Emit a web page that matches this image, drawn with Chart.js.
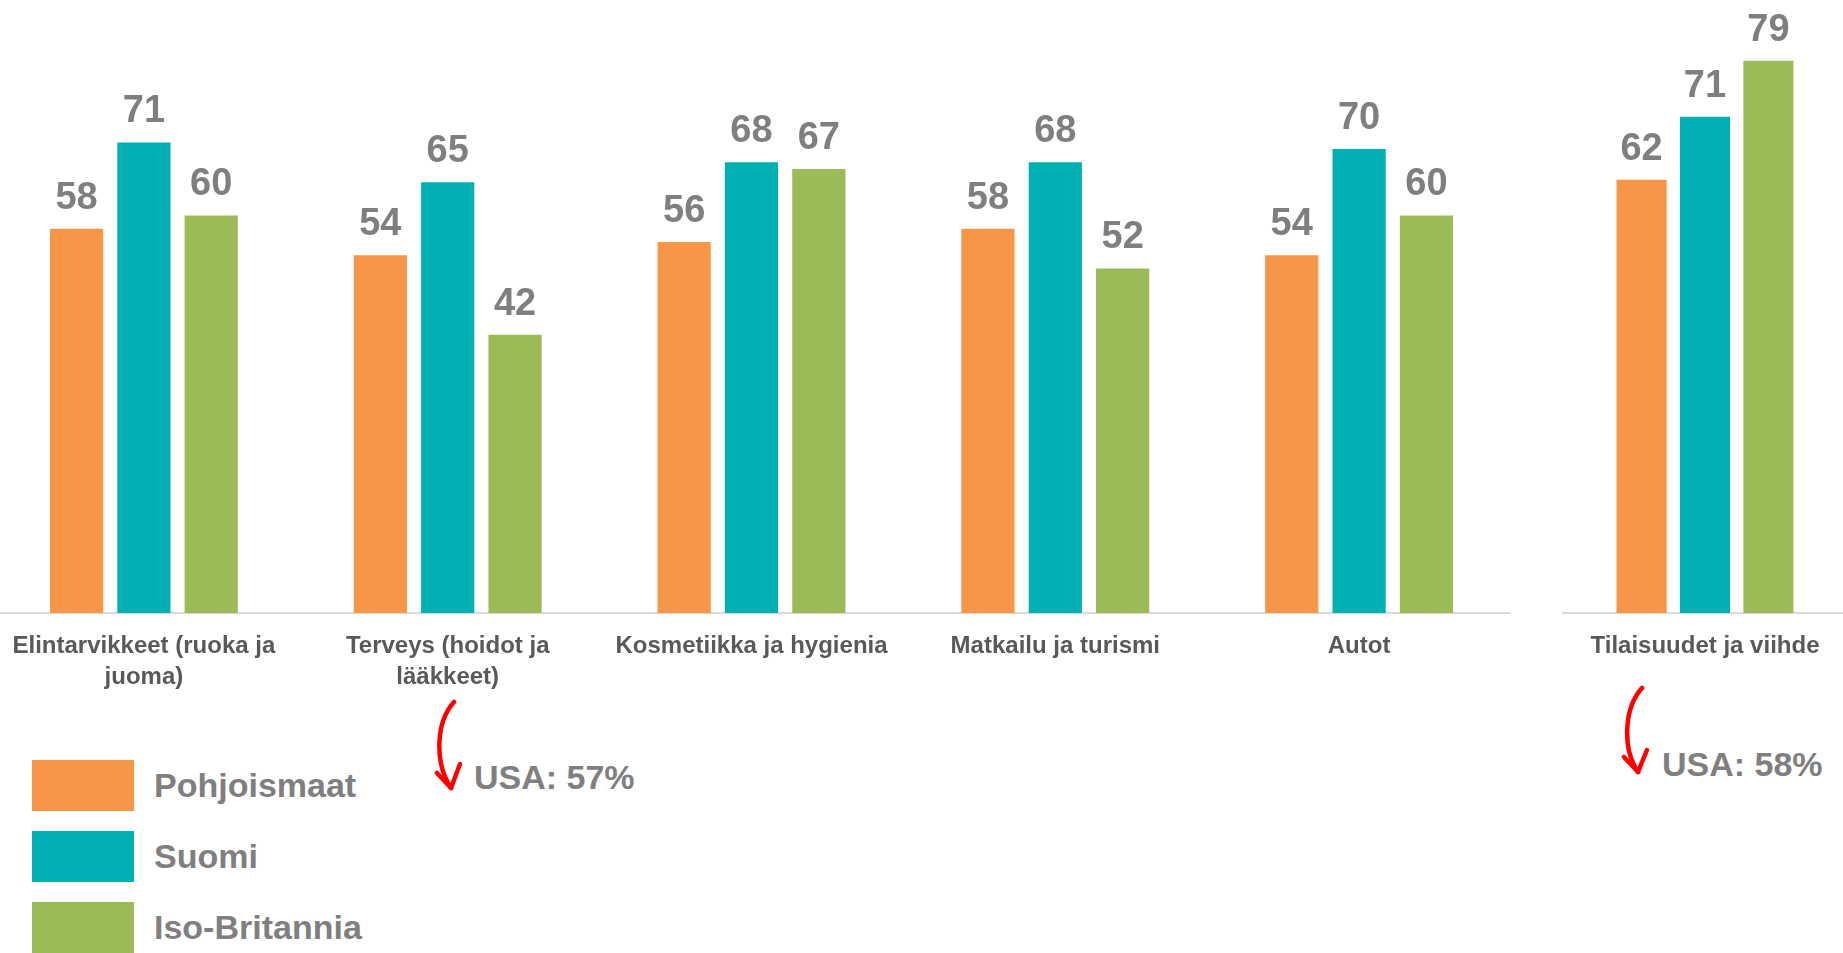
<!DOCTYPE html>
<html>
<head>
<meta charset="utf-8">
<script src="https://cdn.jsdelivr.net/npm/chart.js@4"></script>
<style>
  html, body { margin: 0; padding: 0; background: #fff; overflow: hidden; }
  body { width: 1843px; height: 953px; position: relative; font-family: 'Liberation Sans', Arial, sans-serif; }
  #box1 { position: absolute; left: -8px; top: 0; width: 1519px; height: 713px; }
  #box2 { position: absolute; left: 1562px; top: 0; width: 286px; height: 713px; }
  .legend { position: absolute; left: 32px; top: 760px; }
  .legend div { display: flex; align-items: center; height: 51px; margin-bottom: 20px; }
  .legend span.sw { width: 102px; height: 51px; display: inline-block; }
  .legend span.tx { margin-left: 20px; font-size: 34px; font-weight: bold; color: #7f7f7f; }
  .usa { position: absolute; font-size: 34px; font-weight: bold; color: #7f7f7f; white-space: nowrap; }
  svg { position: absolute; left: 0; top: 0; }
</style>
</head>
<body>
<div id="box1"><canvas id="chart1"></canvas></div>
<div id="box2"><canvas id="chart2"></canvas></div>
<div class="legend" id="legend"></div>
<div class="usa" style="left:474px; top:758px;">USA: 57%</div>
<div class="usa" style="left:1662px; top:745px;">USA: 58%</div>
<svg width="1843" height="953">
  <g fill="none" stroke="#ff0000" stroke-width="4.5" stroke-linecap="round" stroke-linejoin="round">
    <path d="M 454 702 C 436 722, 434 762, 451 788" />
    <path d="M 437 773 L 451 788 L 460 764" />
    <path d="M 1642 688 C 1624 708, 1622 748, 1638 772" />
    <path d="M 1624 757 L 1638 772 L 1647 750" />
  </g>
</svg>
<script>
const seriesNames = ['Pohjoismaat', 'Suomi', 'Iso-Britannia'];
const seriesColors = ['#f79646', '#00b0b3', '#9bbb59'];

const categories1 = [
    ['Elintarvikkeet (ruoka ja', 'juoma)'],
    ['Terveys (hoidot ja', 'lääkkeet)'],
    'Kosmetiikka ja hygienia',
    'Matkailu ja turismi',
    'Autot'
];
const pohjoismaat1 = [58, 54, 56, 58, 54];
const suomi1 = [71, 65, 68, 68, 70];
const isoBritannia1 = [60, 42, 67, 52, 60];

const categories2 = ['Tilaisuudet ja viihde'];
const pohjoismaat2 = [62];
const suomi2 = [71];
const isoBritannia2 = [79];

Chart.defaults.font.family = "'Liberation Sans', Arial, sans-serif";
Chart.defaults.animation = false;

// draws the value above each bar
const valueLabels = {
    id: 'valueLabels',
    afterDatasetsDraw(chart) {
        const ctx = chart.ctx;
        ctx.save();
        ctx.font = "bold 38px 'Liberation Sans', Arial, sans-serif";
        ctx.fillStyle = '#7f7f7f';
        ctx.textAlign = 'center';
        ctx.textBaseline = 'alphabetic';
        chart.data.datasets.forEach((ds, i) => {
            chart.getDatasetMeta(i).data.forEach((bar, j) => {
                ctx.fillText(ds.data[j], bar.x, bar.y - 20);
            });
        });
        ctx.restore();
    }
};

function makeChart(id, labels, values, yMax) {
    return new Chart(document.getElementById(id), {
        type: 'bar',
        data: {
            labels: labels,
            datasets: values.map((v, i) => ({
                label: seriesNames[i],
                data: v,
                backgroundColor: seriesColors[i],
                categoryPercentage: 0.665,
                barPercentage: 0.79
            }))
        },
        options: {
            responsive: true,
            maintainAspectRatio: false,
            layout: { padding: 0 },
            plugins: { legend: { display: false }, tooltip: { enabled: false } },
            scales: {
                x: {
                    grid: { display: false },
                    border: { display: true, color: '#d9d9d9', width: 2 },
                    ticks: {
                        color: '#595959',
                        font: { size: 24, weight: 'bold', lineHeight: 1.3 },
                        padding: 10,
                        maxRotation: 0,
                        autoSkip: false
                    },
                    afterFit: s => { s.height = 100; }
                },
                y: { display: false, min: 0, max: yMax }
            }
        },
        plugins: [valueLabels]
    });
}

makeChart('chart1', categories1, [pohjoismaat1, suomi1, isoBritannia1], 92.5);
makeChart('chart2', categories2, [pohjoismaat2, suomi2, isoBritannia2], 87.7);

document.getElementById('legend').innerHTML = seriesNames.map((n, i) =>
    `<div><span class="sw" style="background:${seriesColors[i]}"></span><span class="tx">${n}</span></div>`
).join('');
</script>
</body>
</html>
